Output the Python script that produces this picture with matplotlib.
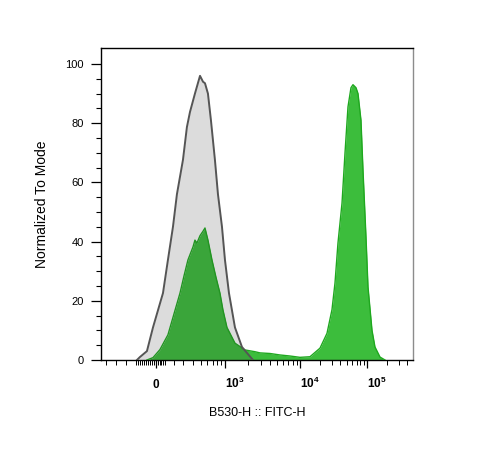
import numpy as np
import matplotlib
matplotlib.use('Agg')  # no display
import matplotlib.pyplot as plt
from matplotlib.ticker import FixedLocator, FixedFormatter, NullFormatter

plt.rcParams['font.family'] = ['Liberation Sans', 'DejaVu Sans']
plt.rcParams['mathtext.fontset'] = 'custom'
plt.rcParams['mathtext.rm'] = 'Liberation Sans'
plt.rcParams['mathtext.bf'] = 'Liberation Sans:bold'

# unstained control histogram (FITC-H value, % of mode)
ctrl_x = [-192, -162, -91, -30, 78, 133, 189, 233, 300, 336, 367, 423, 489, 533,
          564, 614, 669, 750, 818, 918, 1000, 1131, 1359, 1685, 2362]
ctrl_y = [0, 1, 3, 11, 22.6, 33.8, 45, 56, 67.6, 78.7, 83.8, 90, 96, 94,
          93.5, 90, 81, 67.6, 56, 45, 33.8, 22.6, 11, 4.4, 0]

# stained sample histogram
fitc_x = [-91, -30, 44, 133, 267, 309, 346, 400, 423, 448, 489, 533, 564, 614,
          689, 772, 866, 944, 1063, 1359, 1848, 2512, 2929, 3981, 5412, 7356,
          10000, 14100, 19890, 25300, 30040, 33300, 36900, 42400, 47000, 52050,
          57700, 61800, 68500, 73400, 81300, 87200, 96600, 103500, 118800,
          131500, 156300, 185600]
fitc_y = [0, 0.8, 3.5, 8.5, 22.6, 28.4, 33.8, 38.2, 40.5, 39.5, 42, 43.5, 44.6, 40.5,
          33.8, 28, 22.6, 16.9, 11, 5.7, 3.4, 2.8, 2.4, 2.2, 1.7, 1.35,
          0.9, 1.1, 4, 9, 17, 26, 39.5, 53, 70, 85.5,
          92, 93, 92, 90, 81, 64, 41.5, 24.7, 10,
          4.4, 1, 0]

x_major = [0, 1e3, 1e4, 1e5]
x_major_labels = ['0', r'$\mathbf{10^{3}}$', r'$\mathbf{10^{4}}$', r'$\mathbf{10^{5}}$']
x_minor = ([-500, -400, -300] + [v for v in range(-200, 101, 20) if v != 0]
           + list(range(200, 1000, 100)) + list(range(2000, 10000, 1000))
           + list(range(20000, 100000, 10000)) + [2e5, 3e5, 4e5])
y_major = [0, 20, 40, 60, 80, 100]
y_minor = [v for v in range(5, 100, 5) if v % 20]

# biex-like axis: linear around zero, log above ~300
LIN_NEG = 0.099
LIN_POS = 0.09
LOG_KNOTS = np.log10([300, 1e3, 1e4, 1e5, 1e6])
LOG_POS = np.array([27.0, 69.0, 144.0, 211.0, 278.0])


def biex_forward(x):
    x = np.asarray(x, dtype=float)
    shp = x.shape
    x = x.ravel()
    out = np.where(x < 0, x * LIN_NEG, x * LIN_POS)
    big = x > 300
    out[big] = np.interp(np.log10(x[big]), LOG_KNOTS, LOG_POS)
    return out.reshape(shp)


def biex_inverse(p):
    p = np.asarray(p, dtype=float)
    shp = p.shape
    p = p.ravel()
    out = np.where(p < 0, p / LIN_NEG, p / LIN_POS)
    big = p > LOG_POS[0]
    out[big] = 10 ** np.interp(p[big], LOG_POS, LOG_KNOTS)
    return out.reshape(shp)


fig = plt.figure(figsize=(4.8, 4.66), dpi=100)
ax = fig.add_axes([101 / 480, 106 / 466, 312 / 480, 312 / 466])
ax.set_xscale('function', functions=(biex_forward, biex_inverse))

# sample first, control on top as a translucent grey layer
ax.fill_between(fitc_x, fitc_y, 0, color='#3cbd3c', lw=0, zorder=2)
ax.plot(fitc_x, fitc_y, color='#1fa81f', lw=1.0, zorder=3)
ax.fill_between(ctrl_x, ctrl_y, 0, color='#333333', alpha=0.17, lw=0, zorder=4)
ax.plot(ctrl_x, ctrl_y, color='#555555', lw=1.4, zorder=5)

ax.set_xlim(-555, 4.86e5)
ax.set_ylim(0, 105.4)

ax.xaxis.set_major_locator(FixedLocator(x_major))
ax.xaxis.set_major_formatter(FixedFormatter(x_major_labels))
ax.xaxis.set_minor_locator(FixedLocator(x_minor))
ax.xaxis.set_minor_formatter(NullFormatter())
ax.yaxis.set_major_locator(FixedLocator(y_major))
ax.yaxis.set_minor_locator(FixedLocator(y_minor))

ax.tick_params(axis='x', which='major', direction='out', length=5.8, width=0.9,
               labelsize=8.5, pad=14.4, colors='black')
ax.tick_params(axis='x', which='minor', direction='out', length=3.6, width=0.7)
ax.tick_params(axis='y', which='major', direction='out', length=7.2, width=0.9,
               labelsize=8, pad=5.0)
ax.tick_params(axis='y', which='minor', direction='out', length=3.6, width=0.8)
for lab in ax.get_xticklabels():
    lab.set_va('baseline')
    lab.set_fontweight('bold')
    if lab.get_text() != '0':
        lab.set_ha('left')

for side in ['top', 'left', 'bottom']:
    ax.spines[side].set_linewidth(1.0)
    ax.spines[side].set_color('black')
ax.spines['right'].set_linewidth(1.0)
ax.spines['right'].set_color('#8c8c8c')

ax.set_xlabel('B530-H :: FITC-H', fontsize=9)
ax.set_ylabel('Normalized To Mode', fontsize=10)
ax.xaxis.set_label_coords(0.5, (360 - 413) / 312)
ax.xaxis.label.set_va('center')
ax.yaxis.set_label_coords((42 - 101) / 312, 0.5)
ax.yaxis.label.set_va('center')

fig.savefig('out.png', dpi=100)
plt.close(fig)
